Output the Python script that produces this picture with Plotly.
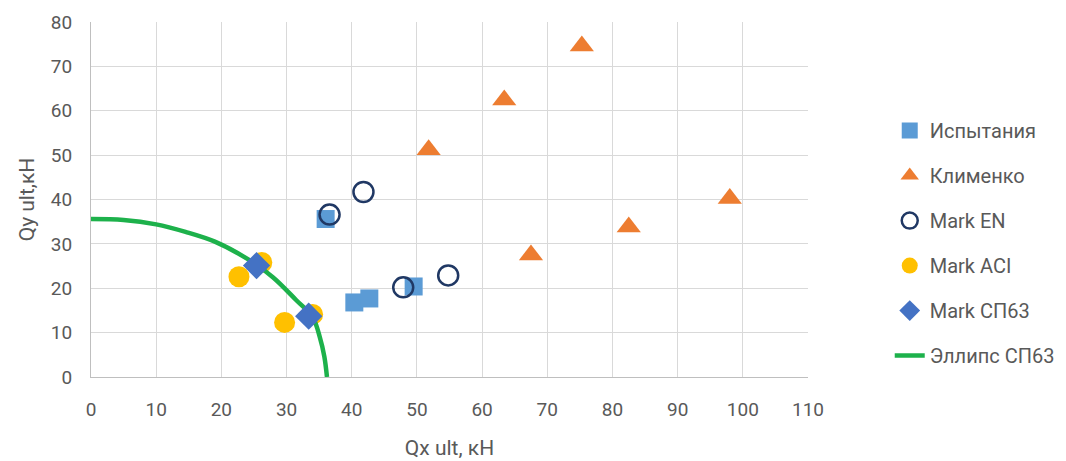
import plotly.graph_objects as go

# Data
test_x = [36.0, 40.4, 42.7, 49.5]
test_y = [35.6, 16.8, 17.7, 20.4]

klim_x = [75.3, 63.4, 51.8, 98.0, 82.5, 67.5]
klim_y = [74.6, 62.4, 51.2, 40.2, 33.8, 27.5]

en_x = [36.6, 41.8, 47.9, 54.8]
en_y = [36.6, 41.7, 20.2, 22.9]

aci_x = [22.7, 26.2, 29.7, 34.0]
aci_y = [22.6, 25.8, 12.3, 14.1]

sp_x = [25.4, 33.4]
sp_y = [25.1, 13.7]

ell_x = [0, 5, 10, 14.5, 19, 24.0, 27.9, 31.5, 34.0, 35.1, 35.8, 36.2]
ell_y = [35.6, 35.4, 34.4, 32.7, 30.5, 26.6, 22.5, 17.3, 13.5, 9.0, 4.6, 0]

FONT = "Roboto, sans-serif"
GRAY = "#595959"

fig = go.Figure()
fig.add_trace(go.Scatter(x=test_x, y=test_y, mode="markers", name="Испытания",
                         legendrank=1, legendgroup="a",
                         marker=dict(symbol="square", size=18, color="#5B9BD5")))
fig.add_trace(go.Scatter(x=klim_x, y=klim_y, mode="markers", name="Клименко",
                         legendrank=2, legendgroup="b",
                         marker=dict(symbol="triangle-up", size=21, color="#ED7D31")))
fig.add_trace(go.Scatter(x=en_x, y=en_y, mode="markers", name="Mark EN",
                         legendrank=3, legendgroup="c",
                         marker=dict(symbol="circle-open", size=20, color="#203864",
                                     line=dict(width=2.5, color="#203864"))))
fig.add_trace(go.Scatter(x=aci_x, y=aci_y, mode="markers", name="Mark ACI",
                         legendrank=4, legendgroup="d",
                         marker=dict(symbol="circle", size=21, color="#FFC000")))
fig.add_trace(go.Scatter(x=ell_x, y=ell_y, mode="lines", name="Эллипс СП63",
                         legendrank=6, legendgroup="f",
                         line=dict(color="#1DB14B", width=4.5, shape="spline", smoothing=1.0)))
fig.add_trace(go.Scatter(x=sp_x, y=sp_y, mode="markers", name="Mark СП63",
                         legendrank=5, legendgroup="e",
                         marker=dict(symbol="diamond", size=21, color="#4472C4")))

axis_common = dict(showgrid=True, gridcolor="#D9D9D9", gridwidth=1,
                   showline=True, linecolor="#BFBFBF", linewidth=1,
                   zeroline=False, dtick=10, ticks="", automargin=False,
                   tickfont=dict(family=FONT, size=19, color=GRAY))

fig.update_layout(
    width=1058, height=453,
    margin=dict(l=83, r=258, t=14, b=84, autoexpand=False),
    paper_bgcolor="white", plot_bgcolor="white",
    font=dict(family=FONT, size=19, color=GRAY),
    xaxis=dict(range=[0, 110], tick0=0, ticklabelstandoff=15,
               title=dict(text="Qx ult, кН", font=dict(family=FONT, size=21, color=GRAY), standoff=20),
               **axis_common),
    yaxis=dict(range=[0, 80], tick0=0, ticklabelstandoff=14,
               title=dict(text="Qy ult,кН", font=dict(family=FONT, size=21, color=GRAY), standoff=10),
               **axis_common),
    legend=dict(x=1.114, y=0.749, xanchor="left", yanchor="top",
                traceorder="grouped", tracegroupgap=16,
                font=dict(family=FONT, size=20, color=GRAY),
                bgcolor="rgba(0,0,0,0)"),
    showlegend=True,
)

fig.write_html("out.html")
